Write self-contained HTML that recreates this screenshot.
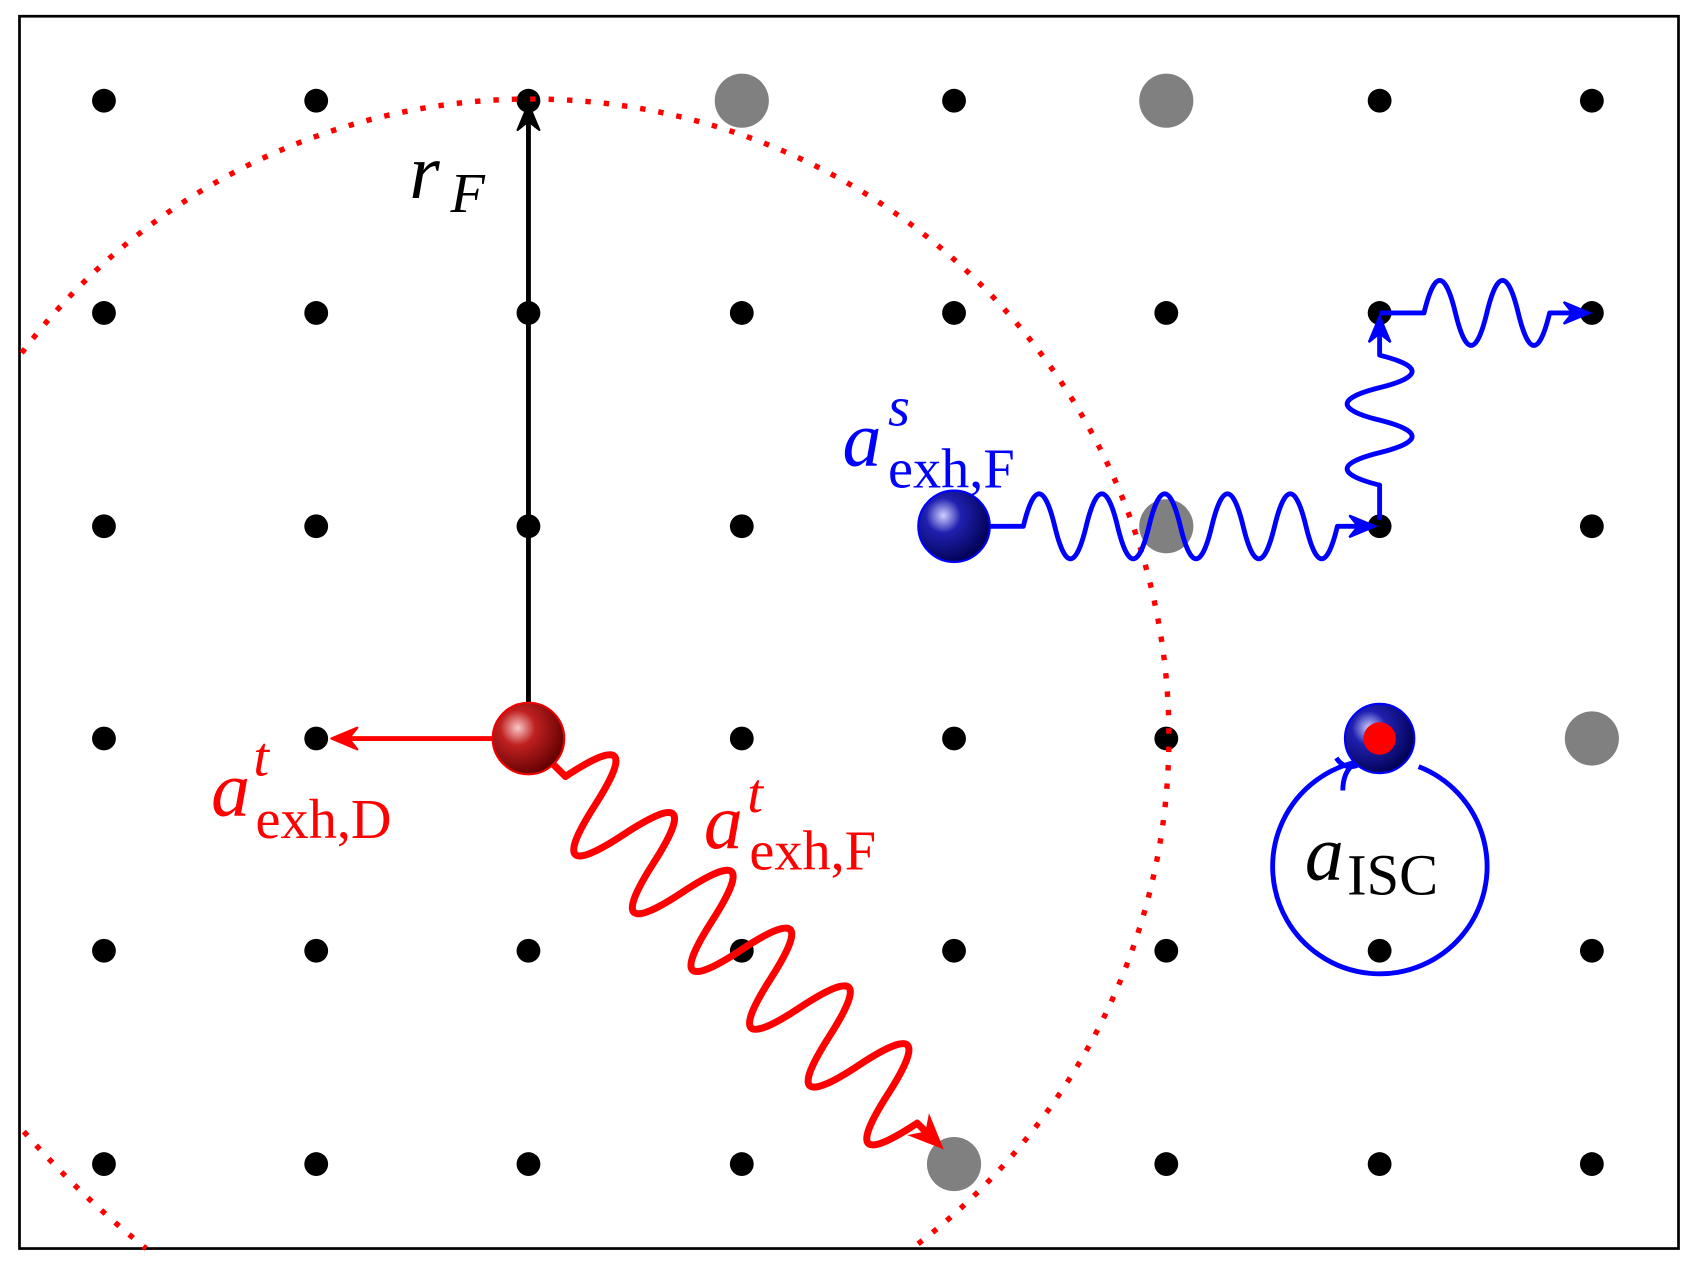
<!DOCTYPE html>
<html><head><meta charset="utf-8"><style>
html,body{margin:0;padding:0;background:#fff;}
svg{display:block}
text{font-family:"Liberation Serif",serif;}
</style></head><body>
<svg width="1698" height="1269" viewBox="0 0 1568 1171.9" preserveAspectRatio="none" xmlns="http://www.w3.org/2000/svg">
<defs>
<radialGradient id="rg" cx="0.35" cy="0.35" r="0.7">
<stop offset="0" stop-color="#f8c8c8"/><stop offset="0.35" stop-color="#c02020"/><stop offset="1" stop-color="#600000"/>
</radialGradient>
<radialGradient id="bg" cx="0.35" cy="0.35" r="0.7">
<stop offset="0" stop-color="#d0d0ff"/><stop offset="0.35" stop-color="#2020b0"/><stop offset="1" stop-color="#000050"/>
</radialGradient>
</defs>
<rect x="18" y="15" width="1532" height="1138" fill="#fff" stroke="#000" stroke-width="2.5"/>
<g fill="#808080">
<circle cx="685" cy="93" r="25"/><circle cx="1077" cy="93" r="25"/><circle cx="1077" cy="486" r="25"/><circle cx="1470" cy="682" r="25"/><circle cx="881" cy="1075" r="25"/>
</g>
<g fill="#000">
<circle cx="96" cy="93" r="11"/><circle cx="292" cy="93" r="11"/><circle cx="488" cy="93" r="11"/><circle cx="881" cy="93" r="11"/><circle cx="1274" cy="93" r="11"/><circle cx="1470" cy="93" r="11"/>
<circle cx="96" cy="289" r="11"/><circle cx="292" cy="289" r="11"/><circle cx="488" cy="289" r="11"/><circle cx="685" cy="289" r="11"/><circle cx="881" cy="289" r="11"/><circle cx="1077" cy="289" r="11"/><circle cx="1274" cy="289" r="11"/><circle cx="1470" cy="289" r="11"/>
<circle cx="96" cy="486" r="11"/><circle cx="292" cy="486" r="11"/><circle cx="488" cy="486" r="11"/><circle cx="685" cy="486" r="11"/><circle cx="1274" cy="486" r="11"/><circle cx="1470" cy="486" r="11"/>
<circle cx="96" cy="682" r="11"/><circle cx="292" cy="682" r="11"/><circle cx="685" cy="682" r="11"/><circle cx="881" cy="682" r="11"/><circle cx="1077" cy="682" r="11"/>
<circle cx="96" cy="878" r="11"/><circle cx="292" cy="878" r="11"/><circle cx="488" cy="878" r="11"/><circle cx="685" cy="878" r="11"/><circle cx="881" cy="878" r="11"/><circle cx="1077" cy="878" r="11"/><circle cx="1274" cy="878" r="11"/><circle cx="1470" cy="878" r="11"/>
<circle cx="96" cy="1075" r="11"/><circle cx="292" cy="1075" r="11"/><circle cx="488" cy="1075" r="11"/><circle cx="685" cy="1075" r="11"/><circle cx="1077" cy="1075" r="11"/><circle cx="1274" cy="1075" r="11"/><circle cx="1470" cy="1075" r="11"/>
</g>
<path d="M20,326 A589,589 0 1 1 842,1153" fill="none" stroke="#f00" stroke-width="5" stroke-dasharray="5,12"/>
<path d="M22,1045 Q75,1105 135,1153" fill="none" stroke="#f00" stroke-width="5" stroke-dasharray="5,12"/>
<line x1="488" y1="650" x2="488" y2="98" stroke="#000" stroke-width="4.5"/>
<path d="M478,120 L488,96 L498,120 L488,112 Z" fill="#000" stroke="#000" stroke-width="2" stroke-linejoin="round"/>
<text x="378" y="183" font-size="72" font-style="italic">r</text>
<text x="416" y="196" font-size="52" font-style="italic">F</text>
<line x1="458" y1="682" x2="310" y2="682" stroke="#f00" stroke-width="4.5"/>
<path d="M330,672 L306,682 L330,692 L322,682 Z" fill="#f00" stroke="#f00" stroke-width="2" stroke-linejoin="round"/>
<g transform="translate(508,703) rotate(44.6)">
<path d="M0,0 L20,0 Q39,-90 58,0 T96,0 T134,0 T172,0 T210,0 T248,0 T286,0 T324,0 T362,0 T400,0 T438,0 T476,0 L500,0" fill="none" stroke="#f00" stroke-width="6.5" stroke-linejoin="round"/>
<path d="M480,-12 L508,0 L480,12 L488,0 Z" fill="#f00" stroke="#f00" stroke-width="2"/>
</g>
<circle cx="488" cy="682" r="33" fill="url(#rg)" stroke="#e00" stroke-width="2"/>
<text x="195" y="753" font-size="72" font-style="italic" fill="#f00">a</text>
<text x="234" y="716" font-size="52" font-style="italic" fill="#f00">t</text>
<text x="236" y="774" font-size="52" fill="#f00">exh,D</text>
<text x="650" y="783" font-size="72" font-style="italic" fill="#f00">a</text>
<text x="690" y="750" font-size="52" font-style="italic" fill="#f00">t</text>
<text x="692" y="803" font-size="52" fill="#f00">exh,F</text>
<path d="M914,486 L945,486 Q959.5,426 974,486 T1003,486 T1032,486 T1061,486 T1090,486 T1119,486 T1148,486 T1177,486 T1206,486 T1235,486 L1266,486" fill="none" stroke="#00f" stroke-width="4.5" stroke-linejoin="round"/>
<path d="M1246,476 L1270,486 L1246,496 L1254,486 Z" fill="#00f" stroke="#00f" stroke-width="2"/>
<path d="M1274,480 L1274,448 Q1214,433 1274,418 T1274,388 T1274,358 T1274,328 L1274,296" fill="none" stroke="#00f" stroke-width="4.5" stroke-linejoin="round"/>
<path d="M1264,316 L1274,292 L1284,316 L1274,308 Z" fill="#00f" stroke="#00f" stroke-width="2"/>
<path d="M1274,289 L1315,289 Q1329.5,229 1344,289 T1373,289 T1402,289 T1431,289 L1463,289" fill="none" stroke="#00f" stroke-width="4.5" stroke-linejoin="round"/>
<path d="M1444,279 L1468,289 L1444,299 L1452,289 Z" fill="#00f" stroke="#00f" stroke-width="2"/>
<circle cx="881" cy="486" r="33" fill="url(#bg)" stroke="#00f" stroke-width="2"/>
<text x="778" y="430" font-size="72" font-style="italic" fill="#00f">a</text>
<text x="820" y="393" font-size="52" font-style="italic" fill="#00f">s</text>
<text x="820" y="450" font-size="52" fill="#00f">exh,F</text>
<path d="M1310,708 A99,99 0 1 1 1256,703" fill="none" stroke="#00f" stroke-width="4.5"/>
<path d="M1240,730 Q1240,712 1252,704" fill="none" stroke="#00f" stroke-width="4.5"/>
<path d="M1234,700 Q1242,712 1255,706" fill="none" stroke="#00f" stroke-width="4.5"/>
<circle cx="1274" cy="682" r="32" fill="url(#bg)" stroke="#00f" stroke-width="2"/>
<circle cx="1274" cy="682" r="15" fill="#f00"/>
<text x="1205" y="812" font-size="72" font-style="italic">a</text>
<text x="1244" y="826" font-size="54">ISC</text>
</svg>
</body></html>
